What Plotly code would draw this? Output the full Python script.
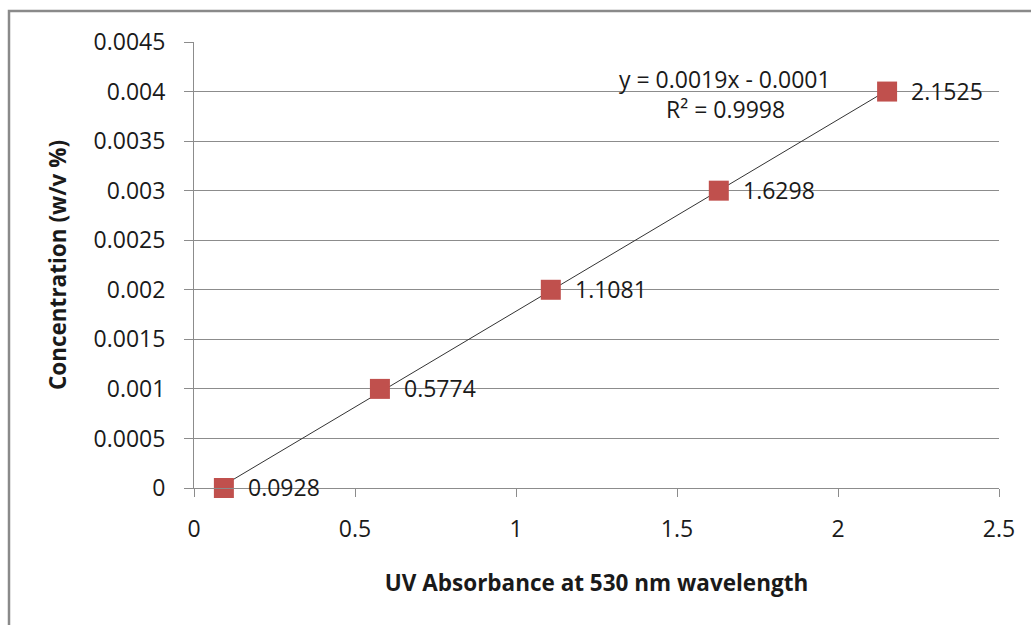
import numpy as np
import plotly.graph_objects as go

absorbance = [0.0928, 0.5774, 1.1081, 1.6298, 2.1525]
concentration = [0, 0.001, 0.002, 0.003, 0.004]
point_labels = ["0.0928", "0.5774", "1.1081", "1.6298", "2.1525"]
x_ticks = [0, 0.5, 1, 1.5, 2, 2.5]
x_ticklabels = ["0", "0.5", "1", "1.5", "2", "2.5"]
y_ticks = [0, 0.0005, 0.001, 0.0015, 0.002, 0.0025, 0.003, 0.0035, 0.004, 0.0045]
y_ticklabels = ["0", "0.0005", "0.001", "0.0015", "0.002", "0.0025", "0.003", "0.0035", "0.004", "0.0045"]

slope, intercept = np.polyfit(absorbance, concentration, 1)
pred = np.polyval([slope, intercept], absorbance)
r2 = 1 - np.sum((np.array(concentration) - pred) ** 2) / np.sum((np.array(concentration) - np.mean(concentration)) ** 2)
trend_x = [min(absorbance), max(absorbance)]
trend_y = [slope * v + intercept for v in trend_x]

W, H = 1031, 625
L, R, T, B = 194, 32, 42, 137
FONT = "Open Sans"
TXT = "#1a1a1a"
GRID = "#8c8c8c"
FS = 23

fig = go.Figure()
fig.add_trace(go.Scatter(
    x=trend_x, y=trend_y, mode="lines",
    line=dict(color="#333333", width=1), hoverinfo="skip", showlegend=False))
fig.add_trace(go.Scatter(
    x=absorbance, y=concentration, mode="markers",
    marker=dict(symbol="square", size=20, color="#C0504D"),
    cliponaxis=False, showlegend=False))

for xv, yv, lab in zip(absorbance, concentration, point_labels):
    fig.add_annotation(x=xv, y=yv, xref="x", yref="y", text=lab, showarrow=False,
                       xanchor="left", yanchor="middle", xshift=22, yshift=1,
                       font=dict(family=FONT, size=FS, color=TXT))

fig.add_annotation(
    x=1.65, y=0.00413, xref="x", yref="y",
    text=f"y = {slope:.4f}x - {abs(intercept):.4f}",
    showarrow=False, xanchor="center", yanchor="middle",
    font=dict(family=FONT, size=FS, color=TXT))
fig.add_annotation(
    x=1.65, y=0.00382, xref="x", yref="y",
    text=f"R² = {r2:.4f}",
    showarrow=False, xanchor="center", yanchor="middle",
    font=dict(family=FONT, size=FS, color=TXT))

pw, ph = W - L - R, H - T - B
fig.add_shape(type="rect", xref="paper", yref="paper",
              x0=(9 - L) / pw, x1=(W + 10 - L) / pw,
              y0=-(H + 10 - T - ph) / ph, y1=(H - B - 11) / ph,
              line=dict(color="#8a8a8a", width=2.5), layer="below")

fig.update_layout(
    width=W, height=H,
    margin=dict(l=L, r=R, t=T, b=B),
    paper_bgcolor="white", plot_bgcolor="white",
    font=dict(family=FONT, color=TXT),
    xaxis=dict(
        range=[0, 2.5], tickvals=x_ticks, ticktext=x_ticklabels,
        showgrid=False, zeroline=False, showline=True, linecolor=GRID, linewidth=1,
        ticks="outside", ticklen=8, tickcolor=GRID, ticklabelstandoff=12,
        tickfont=dict(family=FONT, size=FS, color=TXT),
        title=dict(text="<b>UV Absorbance at 530 nm wavelength</b>",
                   font=dict(family=FONT, size=22.5, color=TXT), standoff=32)),
    yaxis=dict(
        range=[0, 0.0045], tickvals=y_ticks, ticktext=y_ticklabels,
        showgrid=True, gridcolor=GRID, gridwidth=1, zeroline=False,
        showline=True, linecolor=GRID, linewidth=1,
        ticks="outside", ticklen=9, tickcolor=GRID, ticklabelstandoff=14,
        tickfont=dict(family=FONT, size=FS, color=TXT),
        title=dict(text="<b>Concentration (w/v %)</b>",
                   font=dict(family=FONT, size=22.5, color=TXT), standoff=20)),
)

fig.write_html("out.html")
